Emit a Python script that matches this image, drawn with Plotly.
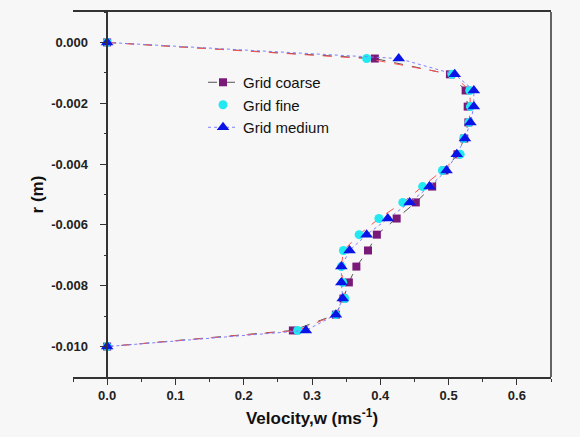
import plotly.graph_objects as go

# radial positions (m)
r = [0.0, -0.00053, -0.00105, -0.00158, -0.00211, -0.00263, -0.00316, -0.00368,
     -0.00421, -0.00474, -0.00526, -0.00579, -0.00632, -0.00684, -0.00737,
     -0.00789, -0.00842, -0.00895, -0.00947, -0.0100]

w_coarse = [0.0, 0.392, 0.502, 0.525, 0.528, 0.529, 0.523, 0.513, 0.494, 0.476,
            0.452, 0.424, 0.395, 0.382, 0.365, 0.354, 0.346, 0.335, 0.272, 0.0]
w_fine = [0.0, 0.380, 0.505, 0.531, 0.532, 0.530, 0.522, 0.517, 0.491, 0.462,
          0.433, 0.398, 0.369, 0.346, 0.343, 0.345, 0.348, 0.335, 0.279, 0.0]
w_medium = [0.0, 0.427, 0.509, 0.537, 0.537, 0.532, 0.524, 0.512, 0.497, 0.472,
            0.443, 0.411, 0.380, 0.355, 0.343, 0.343, 0.345, 0.335, 0.291, 0.0]

y_ticks = [0.0, -0.002, -0.004, -0.006, -0.008, -0.010]
y_tick_labels = ["0.000", "-0.002", "-0.004", "-0.006", "-0.008", "-0.010"]
x_ticks = [0.0, 0.1, 0.2, 0.3, 0.4, 0.5, 0.6]
x_tick_labels = ["0.0", "0.1", "0.2", "0.3", "0.4", "0.5", "0.6"]

FONT = "Arial, Liberation Sans, sans-serif"
BG = "#f7f7f7"

fig = go.Figure()

fig.add_trace(go.Scatter(
    x=w_coarse, y=r, mode="lines+markers", name="Grid coarse",
    line=dict(color="#555555", width=1, dash="dash"),
    marker=dict(symbol="square", size=8, color="#7a1a78"),
))
fig.add_trace(go.Scatter(
    x=w_fine, y=r, mode="lines", showlegend=False, hoverinfo="skip",
    line=dict(color="#ff5050", width=1, dash="dash"),
))
fig.add_trace(go.Scatter(
    x=w_fine, y=r, mode="markers", name="Grid fine",
    marker=dict(symbol="circle", size=9, color="#22e8f2"),
))
fig.add_trace(go.Scatter(
    x=w_medium, y=r, mode="lines+markers", name="Grid medium",
    line=dict(color="#8080ff", width=1, dash="dot"),
    marker=dict(symbol="triangle-up", size=11, color="#0a14e6"),
))

fig.update_layout(
    width=580, height=437,
    margin=dict(l=73, r=29, t=10, b=60),
    paper_bgcolor=BG, plot_bgcolor=BG,
    font=dict(family=FONT, color="#111111"),
    showlegend=True,
    legend=dict(x=0.272, y=0.852, xanchor="left", yanchor="top",
                bgcolor="rgba(0,0,0,0)", font=dict(size=15, family=FONT, color="#111111")),
    xaxis=dict(
        range=[-0.05, 0.65], showgrid=False, zeroline=False,
        showline=True, linecolor="#333333", linewidth=1.5, mirror=True,
        tickmode="array", tickvals=x_ticks, ticktext=x_tick_labels,
        ticks="outside", ticklen=6, tickwidth=1.2, tickcolor="#333333",
        minor=dict(ticks="outside", dtick=0.05, tick0=0, ticklen=3, tickcolor="#333333", showgrid=False),
        tickfont=dict(size=13, family=FONT, weight="bold", color="#222222"),
        title=dict(text="Velocity,w (ms<sup>-1</sup>)", standoff=10,
                   font=dict(size=17, family=FONT, weight="bold", color="#111111")),
    ),
    yaxis=dict(
        range=[-0.011, 0.001], showgrid=False, zeroline=False,
        anchor="free", position=0.072,
        showline=True, linecolor="#333333", linewidth=1.5,
        tickmode="array", tickvals=y_ticks, ticktext=y_tick_labels,
        ticks="outside", ticklen=7, tickwidth=1.2, tickcolor="#333333",
        ticklabelstandoff=9,
        minor=dict(ticks="outside", dtick=0.001, tick0=0, ticklen=3, tickcolor="#333333", showgrid=False),
        tickfont=dict(size=13, family=FONT, weight="bold", color="#222222"),
        title=dict(text="r (m)", standoff=2,
                   font=dict(size=17, family=FONT, weight="bold", color="#111111")),
    ),
    shapes=[
        dict(type="line", xref="paper", yref="paper", x0=1, x1=1, y0=0, y1=1,
             line=dict(color="#333333", width=1.5)),
    ],
)

fig.write_html("out.html")
